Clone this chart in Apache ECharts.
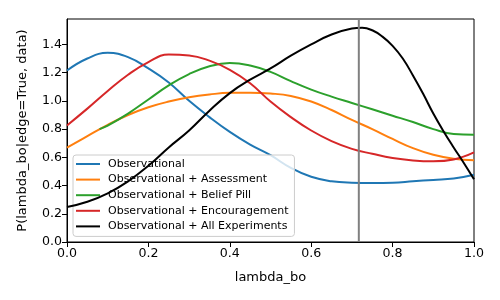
<!DOCTYPE html>
<html>
<head>
<meta charset="utf-8">
<script src="https://cdn.jsdelivr.net/npm/echarts@6/dist/echarts.min.js"></script>
<style>html,body{margin:0;padding:0;background:#fff}#c{width:500px;height:300px}</style>
</head>
<body>
<div id="c"></div>
<script>
const seriesNames = ['Observational', 'Observational + Assessment', 'Observational + Belief Pill', 'Observational + Encouragement', 'Observational + All Experiments'];
const xCommon = [0, 0.05, 0.1, 0.15, 0.2, 0.25, 0.3, 0.35, 0.4, 0.45, 0.5, 0.55, 0.6, 0.65, 0.7, 0.75, 0.8, 0.85, 0.9, 0.95, 1.0];
const yObservational = [1.215, 1.30, 1.34, 1.31, 1.23, 1.13, 1.00, 0.885, 0.78, 0.69, 0.615, 0.525, 0.462, 0.43, 0.42, 0.418, 0.42, 0.43, 0.44, 0.45, 0.477];
const yAssessment = [0.668, 0.75, 0.83, 0.90, 0.955, 0.995, 1.025, 1.045, 1.057, 1.058, 1.052, 1.035, 0.995, 0.935, 0.865, 0.80, 0.73, 0.665, 0.618, 0.59, 0.579];
const xBeliefPill = [0.08, 0.1, 0.15, 0.2, 0.25, 0.3, 0.35, 0.4, 0.45, 0.5, 0.55, 0.6, 0.65, 0.7, 0.75, 0.8, 0.85, 0.9, 0.95, 1.0];
const yBeliefPill = [0.80, 0.825, 0.91, 1.01, 1.11, 1.19, 1.245, 1.268, 1.25, 1.205, 1.14, 1.08, 1.03, 0.985, 0.94, 0.895, 0.85, 0.80, 0.765, 0.76];
const yEncouragement = [0.826, 0.945, 1.07, 1.185, 1.275, 1.328, 1.322, 1.285, 1.22, 1.125, 0.995, 0.885, 0.79, 0.715, 0.66, 0.625, 0.595, 0.578, 0.572, 0.585, 0.635];
const xAllExperiments = [0, 0.05, 0.1, 0.15, 0.2, 0.25, 0.3, 0.35, 0.4, 0.45, 0.5, 0.55, 0.6, 0.65, 0.7, 0.725, 0.75, 0.775, 0.8, 0.825, 0.85, 0.875, 0.9, 0.925, 0.95, 0.975, 1.0];
const yAllExperiments = [0.248, 0.285, 0.345, 0.43, 0.54, 0.67, 0.79, 0.93, 1.055, 1.15, 1.23, 1.32, 1.40, 1.47, 1.512, 1.518, 1.50, 1.455, 1.39, 1.30, 1.18, 1.05, 0.91, 0.785, 0.67, 0.56, 0.444];
const markerX = 0.717;
const yMax = 1.58;
const colors = ['#1f77b4', '#ff7f0e', '#2ca02c', '#d62728', '#000000'];

function pairs(xs, ys) { return xs.map((x, i) => [x, ys[i]]); }
const seriesData = [
  pairs(xCommon, yObservational),
  pairs(xCommon, yAssessment),
  pairs(xBeliefPill, yBeliefPill),
  pairs(xCommon, yEncouragement),
  pairs(xAllExperiments, yAllExperiments)
];

const font = 'DejaVu Sans';
const chart = echarts.init(document.getElementById('c'), null, {renderer: 'canvas'});
const series = seriesNames.map((n, i) => ({
  name: n, type: 'line', data: seriesData[i], showSymbol: false, symbol: 'none', smooth: 0.45,
  lineStyle: {color: colors[i], width: 2}, itemStyle: {color: colors[i]}, z: 2 + i, animation: false
}));
series.push({
  name: 'marker', type: 'line', data: [[markerX, 0], [markerX, yMax]], showSymbol: false, symbol: 'none',
  lineStyle: {color: '#808080', width: 2}, z: 10, animation: false, silent: true
});
chart.setOption({
  animation: false,
  grid: {left: 67, right: 26, top: 19, bottom: 58, show: true, borderColor: '#000', borderWidth: 1, backgroundColor: 'transparent'},
  xAxis: {
    type: 'value', min: 0, max: 1, interval: 0.2,
    name: 'lambda_bo', nameLocation: 'middle', nameGap: 29,
    nameTextStyle: {fontFamily: font, fontSize: 13, color: '#000'},
    axisLine: {show: true, lineStyle: {color: '#000', width: 1}},
    axisTick: {show: true, length: 5, lineStyle: {color: '#000'}},
    axisLabel: {fontFamily: font, fontSize: 12.6, color: '#000', margin: 5, formatter: v => v.toFixed(1)},
    splitLine: {show: false}
  },
  yAxis: {
    type: 'value', min: 0, max: yMax, interval: 0.2,
    name: 'P(lambda_bo|edge=True, data)', nameLocation: 'middle', nameGap: 38,
    nameTextStyle: {fontFamily: font, fontSize: 13, color: '#000'},
    axisLine: {show: true, lineStyle: {color: '#000', width: 1}},
    axisTick: {show: true, length: 5, lineStyle: {color: '#000'}},
    axisLabel: {fontFamily: font, fontSize: 12.6, color: '#000', margin: 5, showMaxLabel: false, formatter: v => v.toFixed(1)},
    splitLine: {show: false}
  },
  legend: {
    data: seriesNames, orient: 'vertical', left: 73, top: 155,
    backgroundColor: 'rgba(255,255,255,0.8)', borderColor: '#cccccc', borderWidth: 1, borderRadius: 3,
    padding: [2, 6, 3, 3], itemGap: 1.6, itemWidth: 24, itemHeight: 2, icon: 'rect',
    textStyle: {fontFamily: font, fontSize: 11, color: '#000', lineHeight: 14, padding: [0, 0, 0, 3]}
  },
  series: series
});
</script>
</body>
</html>
